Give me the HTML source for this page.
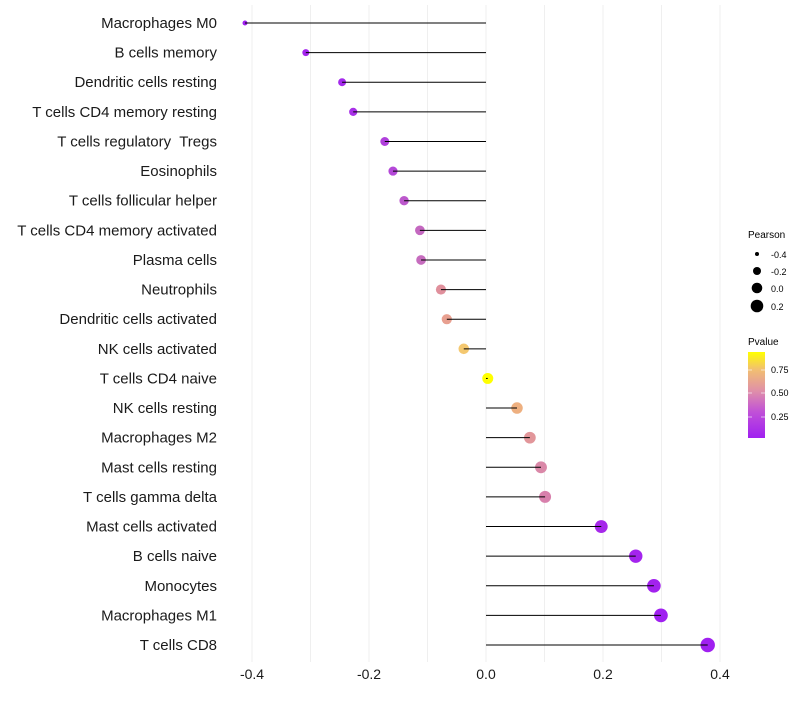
<!DOCTYPE html>
<html><head><style>body{margin:0;background:#fff}</style></head><body>
<svg width="800" height="700" xmlns="http://www.w3.org/2000/svg" font-family="Liberation Sans, sans-serif">
<defs><linearGradient id="g" x1="0" y1="1" x2="0" y2="0">
<stop offset="0" stop-color="#A020F0"/><stop offset="0.3" stop-color="#C050D8"/><stop offset="0.55" stop-color="#E090A8"/><stop offset="0.8" stop-color="#F2C070"/><stop offset="1" stop-color="#FFFF00"/></linearGradient></defs>
<g stroke="#efefef" stroke-width="1">
<line x1="252" y1="5" x2="252" y2="662"/><line x1="310.5" y1="5" x2="310.5" y2="662"/><line x1="369" y1="5" x2="369" y2="662"/><line x1="427.5" y1="5" x2="427.5" y2="662"/><line x1="486" y1="5" x2="486" y2="662"/><line x1="544.5" y1="5" x2="544.5" y2="662"/><line x1="603" y1="5" x2="603" y2="662"/><line x1="661.5" y1="5" x2="661.5" y2="662"/><line x1="720" y1="5" x2="720" y2="662"/>
</g>
<g id="pts"></g>
<g font-size="14" fill="#1a1a1a" text-anchor="middle">
<text x="252" y="679">-0.4</text><text x="369" y="679">-0.2</text><text x="486" y="679">0.0</text><text x="603" y="679">0.2</text><text x="720" y="679">0.4</text>
</g>
<g font-size="10" fill="#000">
<text x="748" y="238">Pearson</text>
<circle cx="757" cy="254" r="2"/><text x="771" y="258" font-size="9">-0.4</text>
<circle cx="757" cy="271" r="4"/><text x="771" y="275" font-size="9">-0.2</text>
<circle cx="757" cy="288" r="5.3"/><text x="771" y="292" font-size="9">0.0</text>
<circle cx="757" cy="306" r="6.3"/><text x="771" y="310" font-size="9">0.2</text>
<text x="748" y="345">Pvalue</text>
<rect x="748" y="352" width="17" height="86" fill="url(#g)"/>
<g stroke="#fff" stroke-opacity="0.6"><line x1="748" y1="370" x2="752" y2="370"/><line x1="761" y1="370" x2="765" y2="370"/><line x1="748" y1="393" x2="752" y2="393"/><line x1="761" y1="393" x2="765" y2="393"/><line x1="748" y1="417" x2="752" y2="417"/><line x1="761" y1="417" x2="765" y2="417"/></g>
<text x="771" y="373" font-size="9">0.75</text><text x="771" y="396" font-size="9">0.50</text><text x="771" y="420" font-size="9">0.25</text>
</g>
</svg>
<script>
const d=[["Macrophages M0",-0.412,"#A020F0"],["B cells memory",-0.308,"#A424EE"],["Dendritic cells resting",-0.246,"#A42AEC"],["T cells CD4 memory resting",-0.227,"#A830E8"],["T cells regulatory  Tregs",-0.173,"#B040DC"],["Eosinophils",-0.159,"#B448D8"],["T cells follicular helper",-0.140,"#BC58CC"],["T cells CD4 memory activated",-0.113,"#C468C0"],["Plasma cells",-0.111,"#C66CBE"],["Neutrophils",-0.077,"#E0909C"],["Dendritic cells activated",-0.067,"#E8A090"],["NK cells activated",-0.038,"#F4C870"],["T cells CD4 naive",0.003,"#FFFF00"],["NK cells resting",0.053,"#EEB080"],["Macrophages M2",0.075,"#E2969A"],["Mast cells resting",0.094,"#DA88A8"],["T cells gamma delta",0.101,"#D880AC"],["Mast cells activated",0.197,"#A628EA"],["B cells naive",0.256,"#A424EE"],["Monocytes",0.287,"#A222EE"],["Macrophages M1",0.299,"#A020F0"],["T cells CD8",0.379,"#A020F0"]];
let s="";const X=v=>486+v*585;
d.forEach((r,i)=>{const y=23+i*29.62;const rr=Math.sqrt(Math.max(1,30+58*r[1]));
s+=`<circle cx="${X(r[1])}" cy="${y}" r="${rr}" fill="${r[2]}"/><line x1="${X(r[1])}" y1="${y}" x2="486" y2="${y}" stroke="#000" stroke-width="1"/><text x="217" y="${y+5}" font-size="15" fill="#1a1a1a" text-anchor="end" xml:space="preserve">${r[0]}</text>`;});
document.getElementById("pts").innerHTML=s;
</script>
</body></html>
